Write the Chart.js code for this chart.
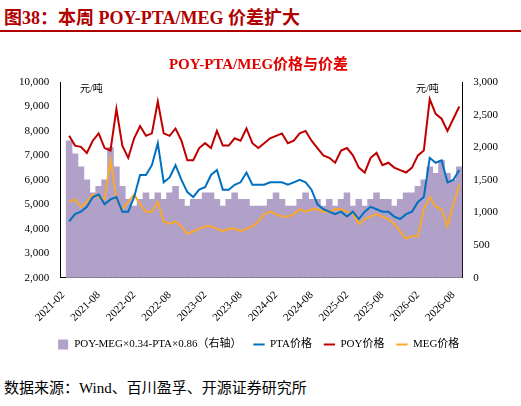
<!DOCTYPE html>
<html><head><meta charset="utf-8">
<script src="https://cdn.jsdelivr.net/npm/chart.js@4"></script>
<style>
body{margin:0;width:521px;height:406px;background:#fff;font-family:"Liberation Serif","Noto Sans CJK SC",serif;position:relative;overflow:hidden}
#head{position:absolute;left:4px;top:3px;font-size:18px;font-weight:bold;color:#b00000;}
#line{position:absolute;left:0;top:30px;width:521px;border-top:2px solid #b00000}
#box{position:absolute;left:0;top:50px;width:521px;height:310px}
#src{position:absolute;left:4px;top:376px;font-size:15px;color:#000}
.unit{position:absolute;font-size:10px;color:#000;top:80px}
</style></head><body>
<div id="head">图38：本周 POY-PTA/MEG 价差扩大</div>
<div id="line"></div>
<div id="box"><canvas id="c"></canvas></div>
<div class="unit" style="left:80px">元/吨</div>
<div class="unit" style="left:416px">元/吨</div>
<div id="src">数据来源：Wind、百川盈孚、开源证券研究所</div>
<script>
// months 2021-02 .. 2026-09
const months = [];
for (let i = 0; i < 68; i++) {
  const y = 2021 + Math.floor((i + 1) / 12);
  const m = ((i + 1) % 12) + 1;
  months.push(y + '-' + String(m).padStart(2, '0'));
}
const poy = [null,7800,7400,7350,7100,7600,7900,7300,7200,8900,7400,6900,7700,8200,7800,7900,9200,7900,7800,8100,7600,6800,6800,7300,7500,7300,8000,7400,7400,7700,7600,8100,7500,7300,7500,7700,7800,7900,7500,7600,7900,8000,7600,7300,7000,6900,6700,7200,7300,7000,6500,6300,6900,7100,6600,6700,6500,6400,6300,6500,7000,7200,9300,8700,8500,8000,8500,9000];
const pta = [null,4300,4600,4700,4900,5300,5400,5000,5200,5300,4700,4700,5300,6200,6200,6600,7500,5900,6100,6600,6000,5500,5300,5600,5700,6200,6400,5600,5600,5800,5900,6300,5800,5800,5800,5900,5900,5900,5800,5900,6000,5900,5600,5000,4800,4700,4600,4700,4500,4700,4400,4700,4900,4800,4700,4700,4500,4400,4600,4700,5100,5300,6900,6700,6800,5900,6000,6400];
const meg = [null,5100,5200,4900,5100,5400,5300,5200,6800,5200,4800,5100,5400,5000,4700,4700,5100,4300,4200,4300,4100,3800,3900,4000,4100,4100,4000,3900,4000,4000,3900,4000,4100,4300,4600,4700,4600,4500,4500,4600,4800,4700,4800,4800,4700,4700,4800,4800,4700,4600,4200,4400,4500,4600,4500,4400,4200,3900,3600,3700,3700,4800,5300,4900,4800,4100,5000,5800];
const spread = [null,2100,1900,1700,1500,1300,1400,1500,2000,1700,1400,1200,1100,1200,1300,1200,1300,1200,1300,1400,1200,1100,1200,1200,1300,1300,1200,1100,1200,1300,1200,1200,1100,1100,1100,1200,1300,1200,1100,1100,1200,1300,1200,1200,1100,1200,1100,1200,1300,1100,1200,1100,1200,1300,1200,1200,1100,1200,1300,1300,1400,1500,1700,1600,1800,1600,1500,1700];

const font = {family: '"Liberation Serif","Noto Sans CJK SC",serif', size: 11};
const line = (label, data, color) => ({type: 'line', label, data, borderColor: color, backgroundColor: color, borderWidth: 2, pointRadius: 0, tension: 0, yAxisID: 'y', order: 1});

new Chart(document.getElementById('c'), {
  data: {
    labels: months,
    datasets: [
      {type: 'bar', label: 'POY-MEG×0.34-PTA×0.86（右轴）', data: spread, backgroundColor: '#b1a0c7', barPercentage: 1, categoryPercentage: 1, yAxisID: 'y1', order: 2},
      line('PTA价格', pta, '#0070c0'),
      line('POY价格', poy, '#c00000'),
      line('MEG价格', meg, '#f9a82b')
    ]
  },
  options: {
    animation: false, responsive: true, maintainAspectRatio: false,
    layout: {padding: {left: 16, right: 20}},
    plugins: {
      title: {display: true, text: 'POY-PTA/MEG价格与价差', color: '#e00000', font: {family: font.family, size: 15, weight: 'bold'}, padding: {top: 6, bottom: 8}},
      legend: {position: 'bottom', labels: {font: font, color: '#000', usePointStyle: true, boxWidth: 28, boxHeight: 8, padding: 12,
        generateLabels: ch => ch.data.datasets.map((d, i) => ({text: d.label, fillStyle: d.backgroundColor, strokeStyle: d.type === 'bar' ? d.backgroundColor : d.borderColor, lineWidth: 2, pointStyle: d.type === 'bar' ? 'rect' : 'line', datasetIndex: i}))}},
      tooltip: {enabled: false}
    },
    scales: {
      x: {grid: {display: false}, border: {color: '#000'}, ticks: {autoSkip: false, maxRotation: 45, minRotation: 45, font: font, color: '#000',
        callback: (v, i) => i % 6 === 0 ? months[i] : ''}},
      y: {position: 'left', min: 2000, max: 10000, ticks: {stepSize: 1000, font: font, color: '#000', callback: v => v.toLocaleString('en-US')}, grid: {display: false}, border: {color: '#000'}},
      y1: {position: 'right', min: 0, max: 3000, ticks: {stepSize: 500, font: font, color: '#000', callback: v => v.toLocaleString('en-US')}, grid: {display: false}, border: {color: '#000'}}
    }
  }
});
</script>
</body></html>
